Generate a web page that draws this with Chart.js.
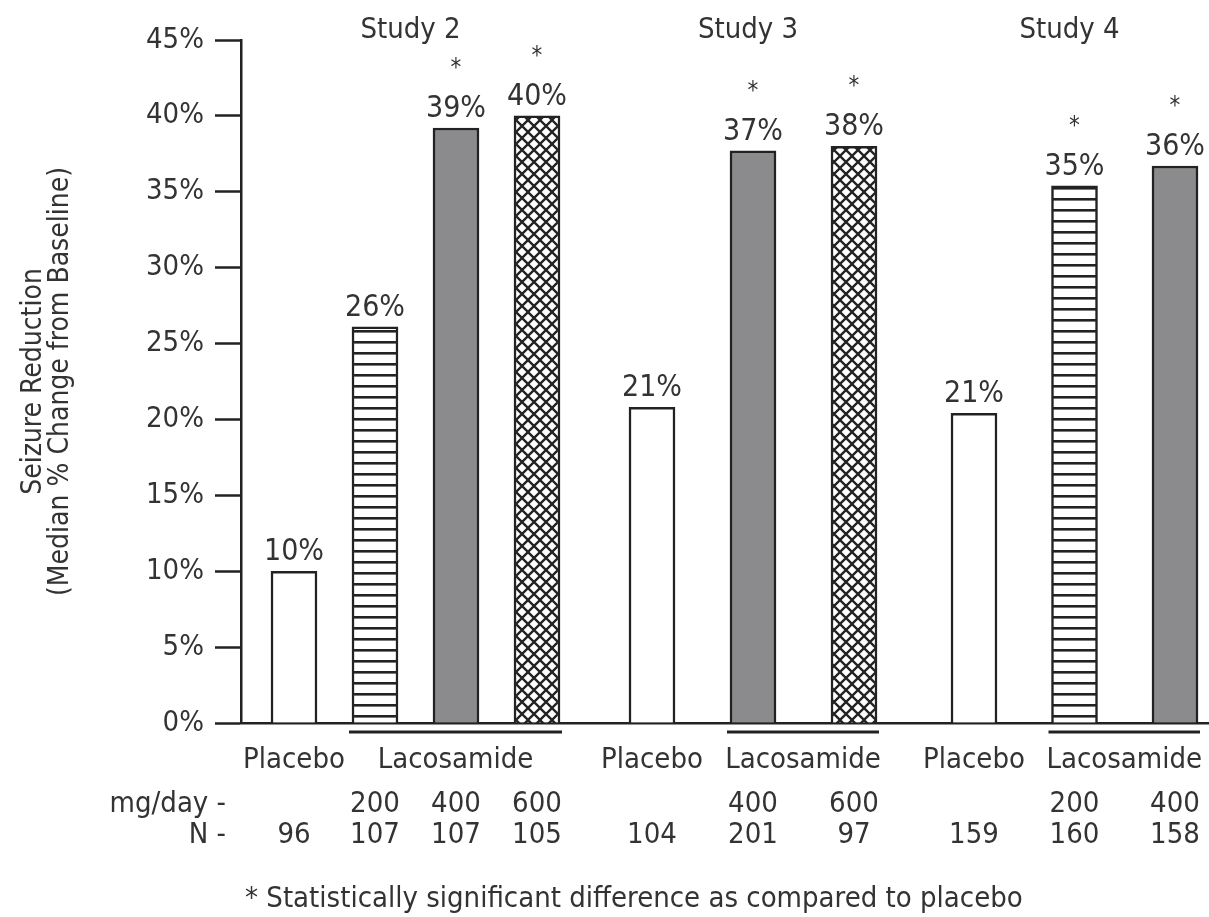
<!DOCTYPE html>
<html>
<head>
<meta charset="utf-8">
<title>Seizure Reduction</title>
<script src="https://cdn.jsdelivr.net/npm/chart.js@4.4.1/dist/chart.umd.min.js"></script>
<style>
  html, body { margin: 0; padding: 0; background: #fff; }
  #wrap { width: 1209px; height: 917px; }
</style>
</head>
<body>
<div id="wrap"><canvas id="seizure-chart"></canvas></div>
<script>
// data
const studies = ['Study 2', 'Study 3', 'Study 4'];
const barStudy = [0, 0, 0, 0, 1, 1, 1, 2, 2, 2];
const barArm = ['placebo', '200', '400', '600', 'placebo', '400', '600', 'placebo', '200', '400'];
const doses = ['', '200', '400', '600', '', '400', '600', '', '200', '400'];
const nPatients = ['96', '107', '107', '105', '104', '201', '97', '159', '160', '158'];
const reductions = [10.0, 26.1, 39.2, 40.0, 20.8, 37.7, 38.0, 20.4, 35.4, 36.7];
const reductionLabels = ['10%', '26%', '39%', '40%', '21%', '37%', '38%', '21%', '35%', '36%'];
const significant = [false, false, true, true, false, true, true, false, true, true];

// layout of the groups along the x axis (axis units)
const groupStart = [0.53, 4.11, 7.33];
const groupStep = [0.81, 1.01, 1.005];

const FONT = "'Liberation Sans Narrow', 'Arial Narrow', 'DejaVu Sans Condensed', sans-serif";
const TEXT = '#333';
const INK = '#222';

const canvas = document.getElementById('seizure-chart');
const ctx = canvas.getContext('2d');

function linesPattern() {
  const c = document.createElement('canvas');
  c.width = 8; c.height = 11;
  const p = c.getContext('2d');
  p.fillStyle = '#fff';
  p.fillRect(0, 0, 8, 11);
  p.fillStyle = INK;
  p.fillRect(0, 0, 8, 2.6);
  return ctx.createPattern(c, 'repeat');
}

function crossPattern() {
  const s = 12;
  const c = document.createElement('canvas');
  c.width = s; c.height = s;
  const p = c.getContext('2d');
  p.fillStyle = '#fff';
  p.fillRect(0, 0, s, s);
  p.strokeStyle = INK;
  p.lineWidth = 2.3;
  p.beginPath();
  p.moveTo(-2, -2); p.lineTo(s + 2, s + 2);
  p.moveTo(s + 2, -2); p.lineTo(-2, s + 2);
  p.stroke();
  return ctx.createPattern(c, 'repeat');
}

const fills = {
  placebo: '#ffffff',
  '200': linesPattern(),
  '400': '#8b8b8d',
  '600': crossPattern()
};

// position of every bar, from its study and its place in the study
const slotIndex = [];
barStudy.forEach((s, i) => {
  slotIndex.push(i === 0 || barStudy[i - 1] !== s ? 0 : slotIndex[i - 1] + 1);
});
const barPos = barStudy.map((s, i) => groupStart[s] + slotIndex[i] * groupStep[s]);

const points = reductions.map((v, i) => ({ x: barPos[i], y: v }));

const annotations = {
  id: 'annotations',
  afterDatasetsDraw(chart) {
    const c = chart.ctx;
    const ys = chart.scales.y;
    const meta = chart.getDatasetMeta(0);
    c.save();
    c.fillStyle = TEXT;
    c.textAlign = 'center';
    c.textBaseline = 'alphabetic';

    // value labels and stars
    meta.data.forEach((bar, i) => {
      const top = ys.getPixelForValue(reductions[i]);
      c.font = '30px ' + FONT;
      c.fillText(reductionLabels[i], bar.x, top - 11);
      if (significant[i]) {
        c.font = '24px ' + FONT;
        c.fillText('*', bar.x, top - 11 - 42);
      }
    });

    // study titles
    c.font = '29px ' + FONT;
    studies.forEach((name, s) => {
      const idx = barStudy.map((b, i) => b === s ? i : -1).filter(i => i >= 0);
      const first = meta.data[idx[0]].x;
      const last = meta.data[idx[idx.length - 1]].x;
      c.fillText(name, (first + last) / 2 - 5, 38);
    });

    // placebo / lacosamide row with underline
    const axisY = ys.getPixelForValue(0);
    studies.forEach((name, s) => {
      const idx = barStudy.map((b, i) => b === s ? i : -1).filter(i => i >= 0);
      const plac = idx.filter(i => barArm[i] === 'placebo');
      const drug = idx.filter(i => barArm[i] !== 'placebo');
      plac.forEach(i => c.fillText('Placebo', meta.data[i].x, 768));
      const l = meta.data[drug[0]];
      const r = meta.data[drug[drug.length - 1]];
      const x0 = l.x - l.width / 2 - 3;
      const x1 = r.x + r.width / 2 + 2;
      c.strokeStyle = INK;
      c.lineWidth = 3;
      c.beginPath();
      c.moveTo(x0, axisY + 9);
      c.lineTo(x1, axisY + 9);
      c.stroke();
      c.fillText('Lacosamide', (x0 + x1) / 2, 768);
    });

    // mg/day and N rows
    meta.data.forEach((bar, i) => {
      if (doses[i]) c.fillText(doses[i], bar.x, 812);
      c.fillText(nPatients[i], bar.x, 843);
    });
    c.textAlign = 'right';
    c.fillText('mg/day -', 226, 812);
    c.fillText('N -', 226, 843);

    // footnote
    c.textAlign = 'left';
    c.fillText('* Statistically significant difference as compared to placebo', 245, 907);
    c.restore();
  }
};

new Chart(canvas, {
  type: 'bar',
  data: {
    datasets: [{
      data: points,
      backgroundColor: barArm.map(a => fills[a]),
      borderColor: INK,
      borderWidth: 2.5,
      barThickness: 46
    }]
  },
  options: {
    responsive: true,
    maintainAspectRatio: false,
    animation: false,
    layout: { padding: { top: 40, left: 0, right: 0, bottom: 0 } },
    plugins: {
      legend: { display: false },
      tooltip: { enabled: false }
    },
    scales: {
      x: {
        type: 'linear',
        offset: false,
        min: 0,
        max: 9.68,
        ticks: { display: false },
        grid: { display: false, offset: false },
        border: { display: true, color: INK, width: 2.5 },
        afterFit: s => { s.height = 194; }
      },
      y: {
        min: 0,
        max: 45,
        ticks: {
          stepSize: 5,
          padding: 11,
          color: TEXT,
          font: { family: FONT, size: 29 },
          callback: v => v + '%'
        },
        grid: {
          drawOnChartArea: false,
          drawTicks: true,
          tickLength: 26,
          tickColor: INK,
          tickWidth: 2.5
        },
        border: { display: true, color: INK, width: 2.5 },
        title: {
          display: true,
          text: ['Seizure Reduction', '(Median % Change from Baseline)'],
          color: TEXT,
          font: { family: FONT, size: 28, lineHeight: 0.96 },
          padding: { top: 20, bottom: 0 }
        },
        afterFit: s => { s.width = 241; }
      }
    }
  },
  plugins: [annotations]
});
</script>
</body>
</html>
